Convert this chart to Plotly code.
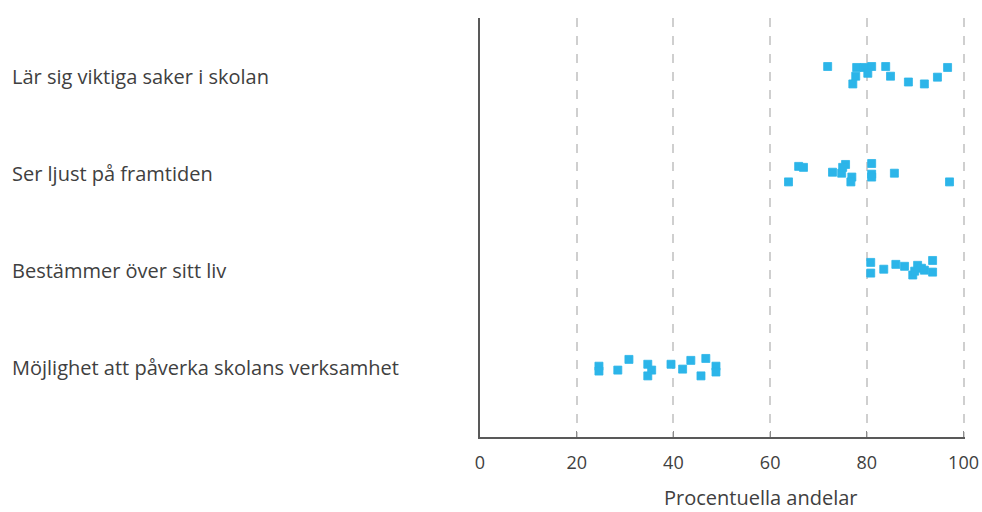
import plotly.graph_objects as go

categories = ["Lär sig viktiga saker i skolan", "Ser ljust på framtiden",
              "Bestämmer över sitt liv", "Möjlighet att påverka skolans verksamhet"]
cat_pos = [4, 3, 2, 1]

values_1 = [71.9, 77.9, 77.1, 77.7, 79.5, 81.0, 80.2, 83.9, 84.9, 88.6, 91.9, 94.6, 96.7]
jitter_1 = [0.10, 0.09, -0.08, 0.00, 0.09, 0.10, 0.03, 0.10, 0.00, -0.06, -0.08, -0.01, 0.09]

values_2 = [63.8, 65.9, 66.9, 72.9, 74.8, 75.6, 75.0, 76.9, 76.7, 81.0, 81.0, 81.0, 85.7, 97.1]
jitter_2 = [-0.09, 0.07, 0.06, 0.01, 0.00, 0.09, 0.06, -0.04, -0.09, 0.10, -0.01, -0.04, 0.00, -0.09]

values_3 = [80.8, 80.8, 83.5, 86.0, 87.8, 89.5, 90.5, 91.3, 91.9, 93.6, 93.6, 89.9]
jitter_3 = [0.08, -0.03, 0.01, 0.06, 0.04, -0.05, 0.05, 0.02, 0.00, 0.10, -0.02, -0.01]

values_4 = [24.6, 24.6, 28.5, 30.8, 34.7, 35.5, 34.7, 39.5, 41.9, 43.6, 45.7, 46.7, 48.8, 48.8]
jitter_4 = [0.01, -0.04, -0.03, 0.08, 0.03, -0.03, -0.09, 0.03, -0.02, 0.07, -0.09, 0.09, 0.01, -0.05]

x_ticks = [0, 20, 40, 60, 80, 100]
x_title = "Procentuella andelar"

series = [(values_1, jitter_1), (values_2, jitter_2), (values_3, jitter_3), (values_4, jitter_4)]

fig = go.Figure()
for (vals, jit), pos in zip(series, cat_pos):
    fig.add_trace(go.Scatter(
        x=vals, y=[pos + j for j in jit], mode="markers",
        marker=dict(symbol="square", size=8, color="#2CB5E9",
                    line=dict(width=0.8, color="#2CB5E9")),
        showlegend=False, hoverinfo="x"))

for cat, pos in zip(categories, cat_pos):
    fig.add_annotation(text=cat, x=0, y=pos, xref="paper", yref="y",
                       xanchor="left", yanchor="middle", showarrow=False,
                       xshift=-470,
                       font=dict(family="Open Sans", size=20, color="#404040"))

fig.add_annotation(text=x_title, x=0.5, y=0, xref="paper", yref="paper",
                   xanchor="center", yanchor="middle", showarrow=False,
                   xshift=38, yshift=-60,
                   font=dict(family="Open Sans", size=20, color="#404040"))

fig.update_xaxes(range=[0, 100.3], tickvals=x_ticks, showgrid=True,
                 gridcolor="#CFCFCF", griddash="dash", gridwidth=2,
                 showline=True, linecolor="#595959", linewidth=2,
                 ticks="inside", ticklen=6, tickcolor="#8C8C8C", tickwidth=1,
                 zeroline=False, ticklabelstandoff=8, automargin=False,
                 tickfont=dict(family="Open Sans", size=18, color="#404040"))
fig.update_yaxes(range=[0.28, 4.6], showticklabels=False, showgrid=False,
                 showline=True, linecolor="#595959", linewidth=2,
                 zeroline=False, ticks="", automargin=False)

fig.update_layout(width=982, height=512, plot_bgcolor="white", paper_bgcolor="white",
                  margin=dict(l=480, r=17, t=18, b=75))

fig.write_html("out.html", config={"displayModeBar": False},
               post_script="document.body.style.margin='0';")
